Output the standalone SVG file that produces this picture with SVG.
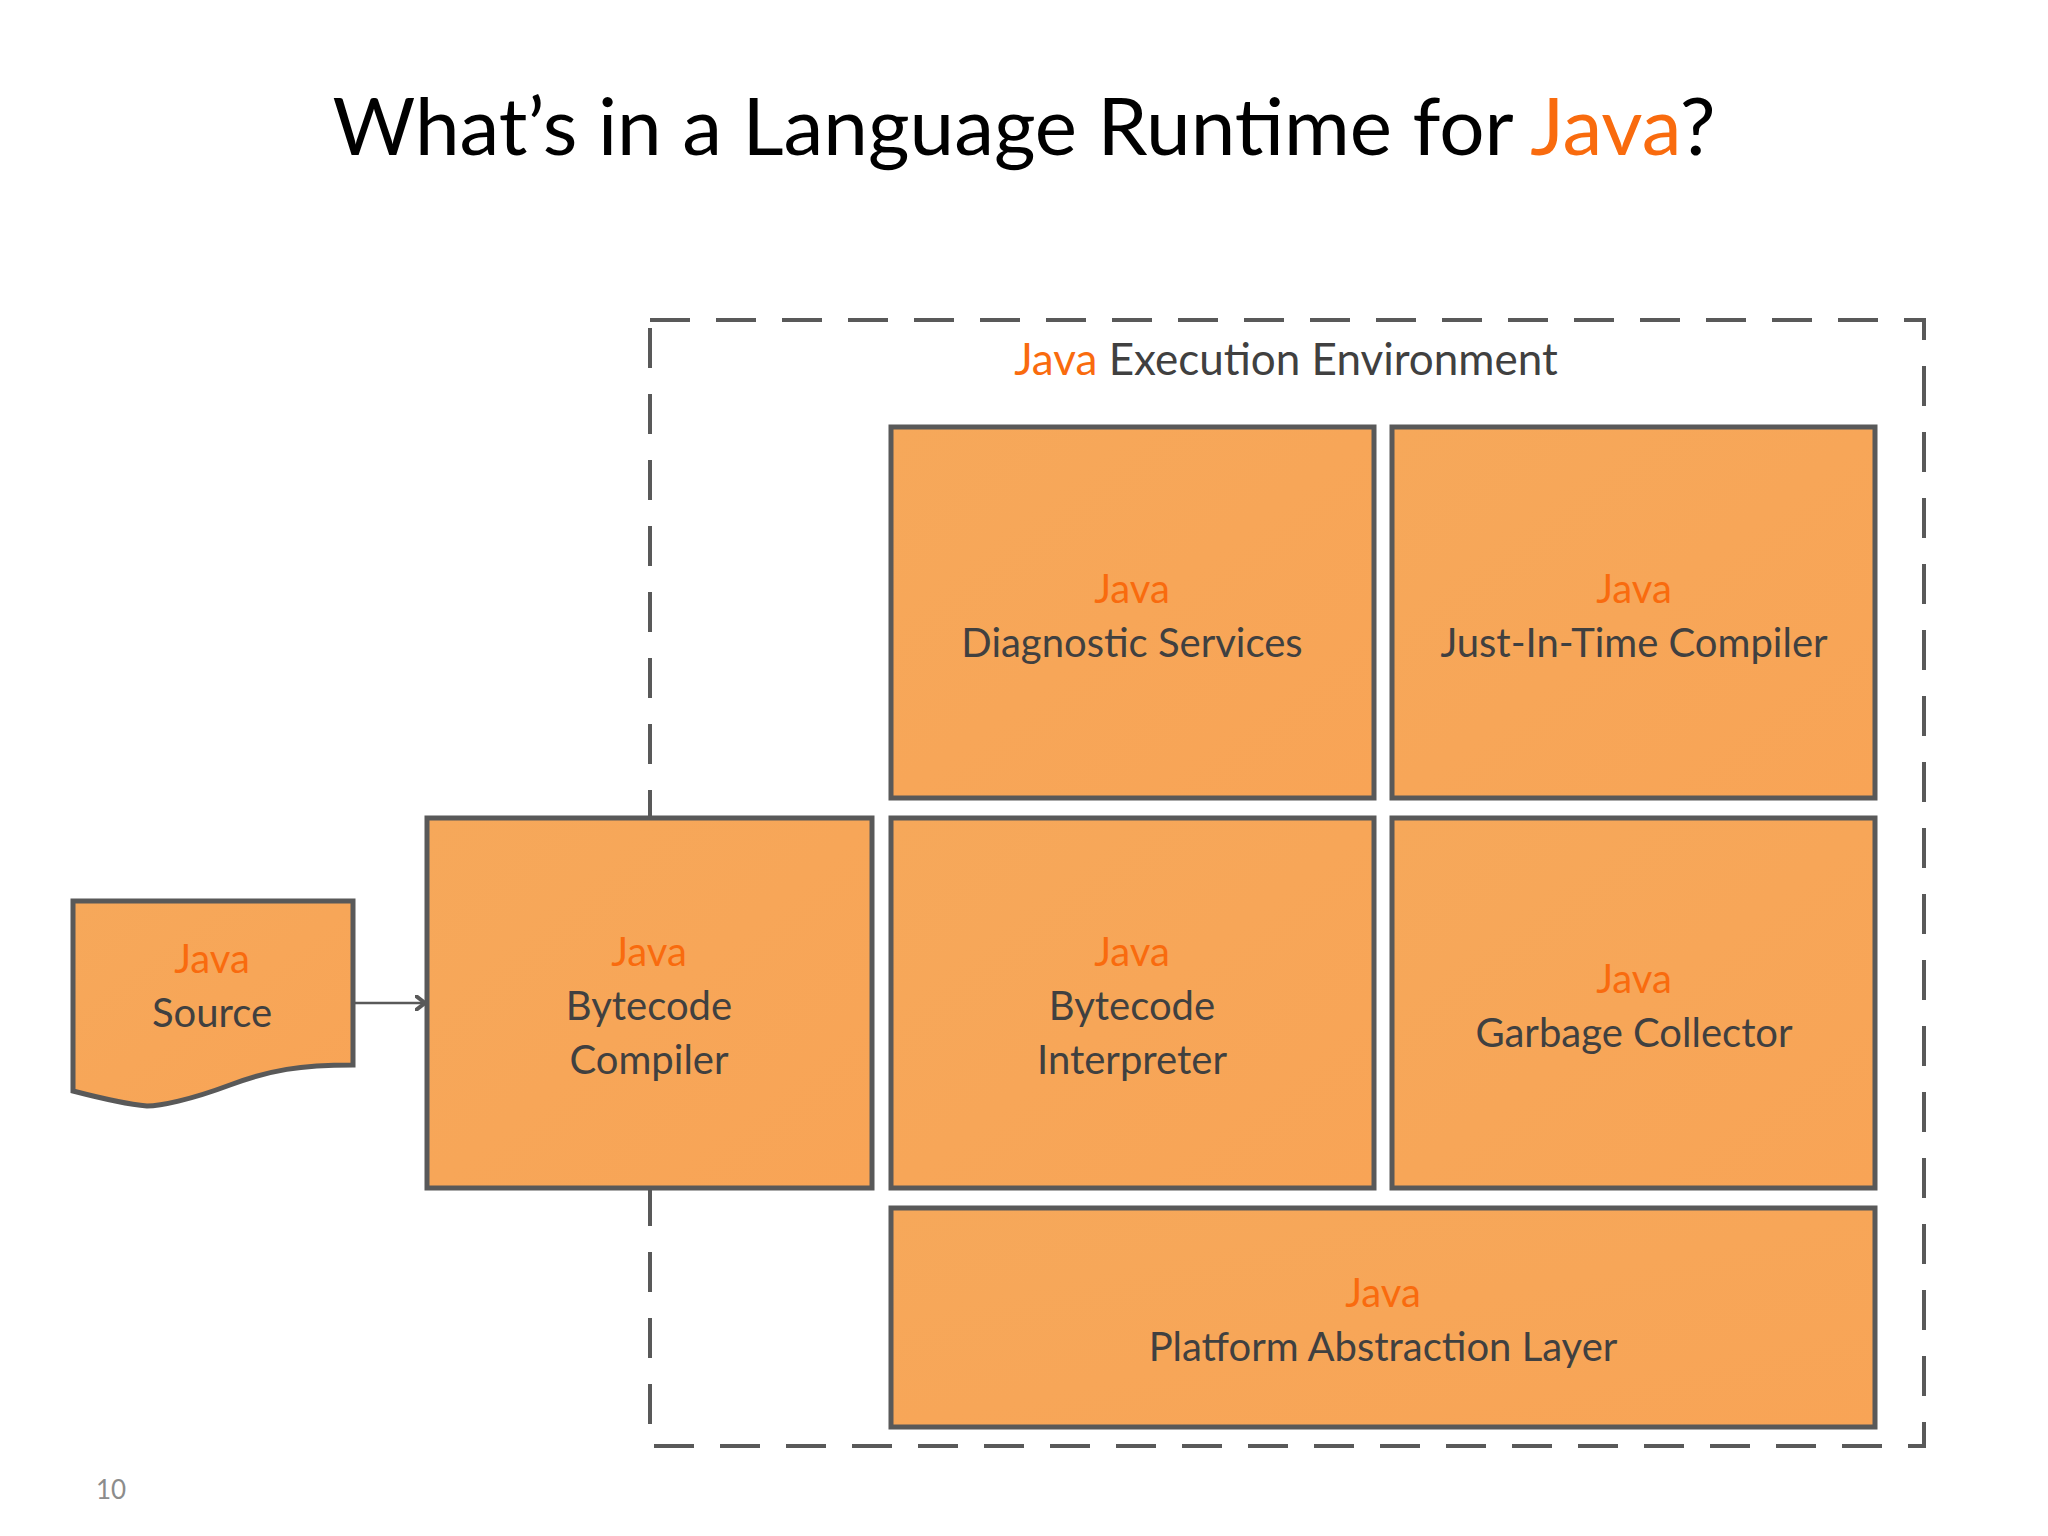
<svg xmlns="http://www.w3.org/2000/svg" width="2048" height="1536" viewBox="0 0 2048 1536">
<defs>
<linearGradient id="g" x1="0" y1="0" x2="1" y2="1"><stop offset="0" stop-color="#F6A85A"/><stop offset="1" stop-color="#F8A456"/></linearGradient>
<marker id="ah" markerWidth="12" markerHeight="16" refX="10" refY="8" orient="auto" markerUnits="userSpaceOnUse"><path d="M1,1 L10,8 L1,15" fill="none" stroke="#595959" stroke-width="4" stroke-linecap="round"/></marker>
</defs>
<style>
.box{fill:url(#g);stroke:#595959;stroke-width:5}
text{font-family:Lato,"Open Sans","Liberation Sans",sans-serif;text-anchor:middle}
.t{font-size:40px;fill:#404040}
.j{fill:#F96B0E}
</style>
<rect width="2048" height="1536" fill="#fff"/>
<text x="1024" y="155" style="font-size:80px;fill:#000">What’s in a Language Runtime for <tspan class="j">Java</tspan>?</text>
<rect x="650" y="320" width="1274" height="1126" fill="none" stroke="#595959" stroke-width="4" stroke-dasharray="40,26"/>
<text x="1286" y="375" style="font-size:44px;fill:#404040"><tspan class="j">Java</tspan> Execution Environment</text>
<g id="connectors"><line x1="353" y1="1003" x2="425" y2="1003" stroke="#595959" stroke-width="2.5" marker-end="url(#ah)"/></g>
<g id="source"><path class="box" d="M73,901 H353 V1065 C300,1065 270,1070 230,1085 C190,1100 160,1106 147,1106 C125,1104 100,1098 73,1091 Z"/>
<text class="t" x="212" y="973"><tspan class="j">Java</tspan><tspan x="212" dy="54">Source</tspan></text></g>
<g id="compiler"><rect class="box" x="427" y="818" width="445" height="370"/>
<text class="t" x="649" y="966"><tspan class="j">Java</tspan><tspan x="649" dy="54">Bytecode</tspan><tspan x="649" dy="54">Compiler</tspan></text></g>
<g id="diagnostic"><rect class="box" x="891" y="427" width="483" height="371"/>
<text class="t" x="1132" y="603"><tspan class="j">Java</tspan><tspan x="1132" dy="54">Diagnostic Services</tspan></text></g>
<g id="jit"><rect class="box" x="1392" y="427" width="483" height="371"/>
<text class="t" x="1634" y="603"><tspan class="j">Java</tspan><tspan x="1634" dy="54">Just-In-Time Compiler</tspan></text></g>
<g id="interpreter"><rect class="box" x="891" y="818" width="483" height="370"/>
<text class="t" x="1132" y="966"><tspan class="j">Java</tspan><tspan x="1132" dy="54">Bytecode</tspan><tspan x="1132" dy="54">Interpreter</tspan></text></g>
<g id="gc"><rect class="box" x="1392" y="818" width="483" height="370"/>
<text class="t" x="1634" y="993"><tspan class="j">Java</tspan><tspan x="1634" dy="54">Garbage Collector</tspan></text></g>
<g id="platform"><rect class="box" x="891" y="1208" width="984" height="219"/>
<text class="t" x="1383" y="1307"><tspan class="j">Java</tspan><tspan x="1383" dy="54">Platform Abstraction Layer</tspan></text></g>
<text x="111" y="1499" style="font-size:26px;fill:#8c8c8c">10</text>
</svg>
